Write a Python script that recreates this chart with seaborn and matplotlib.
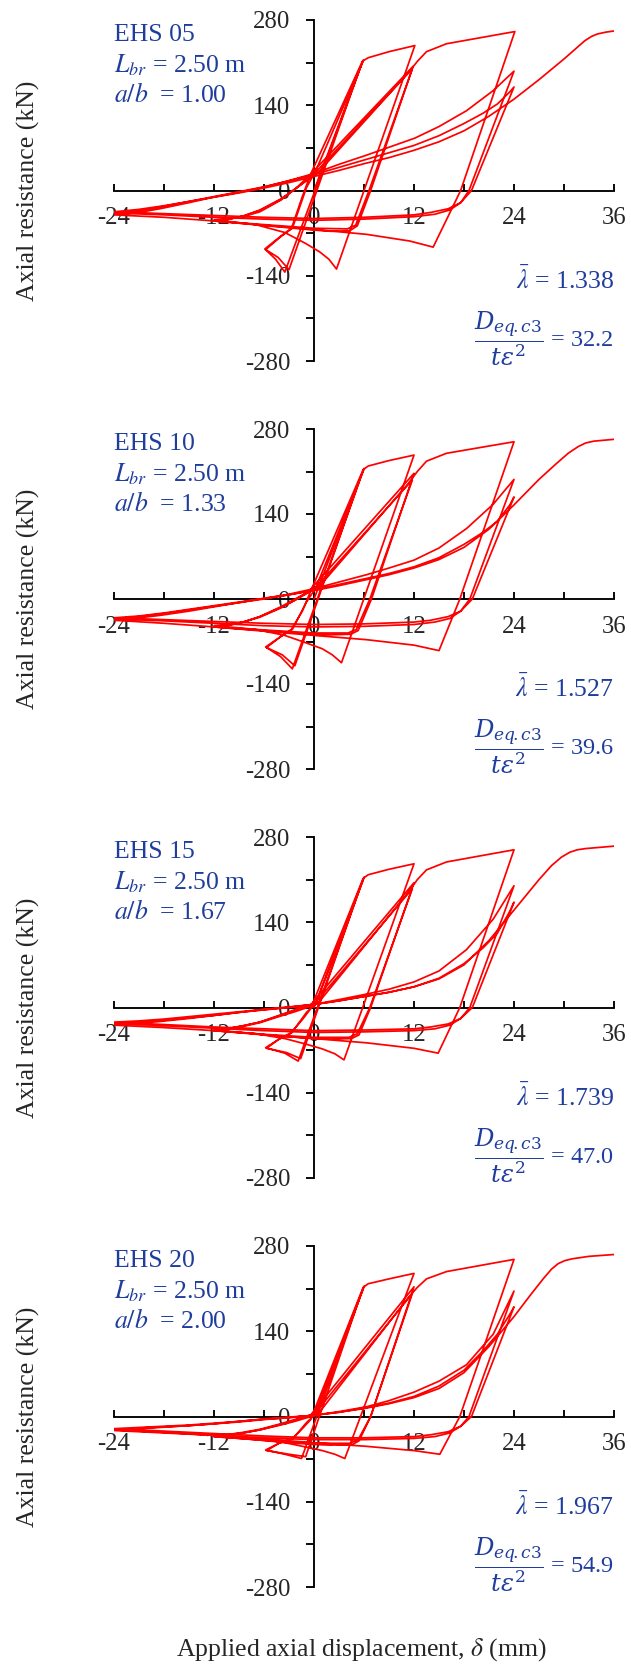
import matplotlib
matplotlib.use("Agg")
import matplotlib.pyplot as plt
import seaborn as sns
from matplotlib.ticker import MultipleLocator

sns.set_style("white")
plt.rcParams["font.family"] = ["Liberation Serif", "DejaVu Serif"]
plt.rcParams["mathtext.fontset"] = "stix"
plt.rcParams["axes.unicode_minus"] = False

# ---------------------------------------------------------------- labels
specimens = ["EHS 05", "EHS 10", "EHS 15", "EHS 20"]
brace_length = ["2.50", "2.50", "2.50", "2.50"]
aspect_ratio = ["1.00", "1.33", "1.67", "2.00"]
slenderness = ["1.338", "1.527", "1.739", "1.967"]
d_ratio = ["32.2", "39.6", "47.0", "54.9"]
x_ticks = [-24, -12, 0, 12, 24, 36]
y_ticks = [-280, -140, 0, 140, 280]

# ---------------------------------------------------------------- hysteresis records (mm, kN)
ehs05_disp = [
    0, 5.9, -3.5, -4.6, -5.9, -4.0, -2.7, -1.4, -0.4, 5.8, -3.0, -4.3, -5.8, -4.0, -2.6, -0.9, 0.2, 5.9,
    6.5, 9.0, 12.1, 2.7, 1.8, 0.7, -1.0, -3.5, -7.0, -12.0,
    -10.5, -8.5, -6.5, -4.0, -2.3, -0.6, 11.9, 6.8, 5.2, 4.3, 2.0, 0.0, -4.0, -8.0, -12.0,
    -10.5, -8.5, -6.5, -4.0, -2.0, 0.0, 11.8, 6.6, 5.0, 4.0, 0.0, -6.0, -12.0,
    -10.5, -8.5, -6.5, -4.0, -1.6, 0.6, 11.3, 12.4, 13.5, 15.9, 24.1,
    17.6, 14.3, 11.5, 6.3, 0.0, -6.0, -12.0, -18.0, -24.0,
    -21, -18.5, -15, -12.1, -9, -6.5, -3.3, 0, 3, 6.3, 9, 12.1, 15, 18.3, 21.5, 24,
    18.6, 17.6, 16.3, 14.5, 12, 6, 0, -6, -12, -18, -24,
    -21, -18, -15, -12, -9, -6, -3, 0, 3, 6, 9, 12, 15, 18, 20.3, 22, 23.5, 24,
    18.9, 17.6, 16.1, 14, 12, 6, 0, -6, -12, -18, -24,
    -21, -18, -15, -12, -9, -6, -3, 0, 3, 6, 9, 12, 15, 18, 21, 24, 27, 30, 31.5, 32.5, 33.3, 34, 35, 36,
]
ehs05_force = [
    0, 214, -134, -113, -96, -75, -62, -10, 27, 212, -130, -110, -97, -76, -62, 5, 32, 213,
    218, 228, 238, -129, -113, -101, -87, -69, -56, -48,
    -47, -43, -35, -16, 2, 24, 204, 0, -58, -66, -67, -65, -60, -55, -50,
    -48, -42, -33, -15, 5, 27, 200, 0, -57, -63, -62, -56, -50,
    -48, -42, -32, -14, 9, 31, 193, 212, 228, 241, 261,
    0, -93, -83, -72, -64, -57, -50, -44, -40,
    -36, -30, -20, -11, -3, 4, 15, 28, 43, 58, 71, 86, 105, 131, 164, 196,
    0, -20, -32, -39, -43, -47, -49, -47, -44, -40, -37,
    -33, -26, -18, -10, -2, 6, 16, 26, 38, 50, 62, 74, 90, 110, 127, 142, 162, 170,
    0, -20, -30, -36, -40, -44, -46, -44, -41, -38, -35,
    -31, -25, -18, -11, -4, 4, 13, 23, 33, 44, 54, 66, 80, 98, 122, 150, 182, 216, 234, 246, 253, 257, 260, 262,
]

ehs10_disp = [
    0, 6.0, -2.6, -4.0, -5.8, -4.0, -2.7, -1.4, -0.4, 5.9, -2.3, -3.8, -5.7, -4.0, -2.6, -0.9, 0.2, 6.0,
    6.5, 9.0, 12.0, 3.3, 2.2, 1.0, -1.0, -3.5, -7.0, -12.0,
    -10.5, -8.5, -6.5, -4.0, -2.3, -0.6, 12.0, 6.9, 5.3, 4.4, 2.0, 0.0, -4.0, -8.0, -12.0,
    -10.5, -8.5, -6.5, -4.0, -2.0, 0.0, 11.8, 6.7, 5.1, 4.1, 0.0, -6.0, -12.0,
    -10.5, -8.5, -6.5, -4.0, -1.6, 0.6, 11.3, 12.4, 13.5, 15.9, 24.0,
    17.5, 15.0, 12.0, 6.3, 0.0, -6.0, -12.0, -18.0, -24.0,
    -21, -18.5, -15, -12, -9, -6.5, -3.3, 0, 3, 6.3, 9, 12, 15, 18.3, 21.5, 24,
    18.7, 17.6, 16.3, 14.5, 12, 6, 0, -6, -12, -18, -24,
    -21, -18, -15, -12, -9, -6, -3, 0, 3, 6, 9, 12, 15, 18, 20.3, 22, 23.5, 24,
    19.0, 17.6, 16.1, 14, 12, 6, 0, -6, -12, -18, -24,
    -21, -18, -15, -12, -9, -6, -3, 0, 3, 6, 9, 12, 15, 18, 21, 24, 27, 29, 30.5, 31.7, 32.6, 33.6, 36,
]
ehs10_force = [
    0, 215, -115, -95, -79, -62, -50, -20, 13, 213, -110, -92, -80, -62, -50, -5, 18, 214,
    219, 228, 237, -105, -92, -82, -72, -60, -50, -44,
    -43, -38, -30, -15, -2, 13, 207, 0, -52, -58, -59, -58, -54, -50, -46,
    -44, -38, -29, -14, 0, 16, 196, 0, -50, -56, -56, -51, -46,
    -44, -38, -29, -13, 5, 20, 190, 210, 227, 240, 259,
    0, -85, -76, -67, -60, -53, -46, -40, -35,
    -31, -27, -20, -13, -6, 0, 7, 17, 28, 40, 51, 64, 84, 116, 156, 197,
    0, -20, -32, -38, -42, -45, -46, -44, -40, -36, -33,
    -29, -24, -18, -12, -6, 0, 7, 15, 24, 33, 42, 53, 68, 90, 110, 128, 155, 168,
    0, -20, -29, -35, -38, -41, -42, -40, -37, -34, -31,
    -28, -23, -17, -11, -5, 1, 7, 14, 22, 31, 40, 51, 65, 85, 115, 155, 197, 222, 240, 251, 257, 260, 263,
]

ehs15_disp = [
    0, 6.0, -1.9, -3.5, -5.8, -4.2, -2.8, -1.4, -0.4, 5.9, -1.6, -3.3, -5.7, -4.2, -2.7, -0.9, 0.2, 6.0,
    6.5, 9.0, 12.0, 3.6, 2.5, 1.0, -1.0, -3.5, -7.0, -12.0,
    -10.5, -8.5, -6.5, -4.0, -2.3, -0.6, 12.0, 6.8, 5.4, 4.5, 2.0, 0.0, -4.0, -8.0, -12.0,
    -10.5, -8.5, -6.5, -4.0, -2.0, 0.0, 11.8, 6.7, 5.2, 4.2, 0.0, -6.0, -12.0,
    -10.5, -8.5, -6.5, -4.0, -1.6, 0.6, 11.3, 12.4, 13.5, 15.9, 24.0,
    17.5, 14.9, 12.0, 6.3, 0.0, -6.0, -12.0, -18.0, -24.0,
    -21, -18.5, -15, -12, -9, -6.5, -3.3, 0, 3, 6.3, 9, 12, 15, 18.3, 21.5, 24,
    18.7, 17.6, 16.3, 14.5, 12, 6, 0, -6, -12, -18, -24,
    -21, -18, -15, -12, -9, -6, -3, 0, 3, 6, 9, 12, 15, 18, 20.3, 22, 23.5, 24,
    19.0, 17.6, 16.1, 14, 12, 6, 0, -6, -12, -18, -24,
    -21, -18, -15, -12, -9, -6, -3, 0, 3, 6, 9, 12, 15, 18, 21, 24, 27, 28.5, 29.7, 30.7, 31.6, 32.6, 36,
]
ehs15_force = [
    0, 214, -88, -75, -66, -52, -42, -20, -2, 212, -84, -74, -67, -52, -42, -8, 6, 213,
    218, 227, 236, -86, -76, -68, -60, -51, -43, -37,
    -35, -31, -25, -14, -7, 1, 205, 0, -45, -51, -52, -51, -47, -42, -38,
    -35, -30, -24, -13, -4, 5, 195, 0, -43, -49, -49, -44, -38,
    -35, -30, -24, -12, 0, 9, 189, 210, 226, 239, 259,
    0, -75, -67, -58, -51, -45, -38, -33, -29,
    -26, -23, -18, -13, -8, -4, 0, 5, 13, 22, 30, 42, 60, 95, 145, 200,
    0, -18, -29, -35, -38, -40, -41, -38, -34, -30, -26,
    -24, -21, -17, -13, -8, -4, 0, 5, 11, 18, 25, 34, 48, 72, 98, 122, 158, 173,
    0, -18, -27, -32, -35, -37, -38, -35, -32, -28, -24,
    -22, -19, -15, -11, -7, -3, 1, 5, 11, 18, 25, 34, 47, 70, 110, 160, 210, 233, 247, 255, 259, 261, 265,
]

ehs20_disp = [
    0, 6.0, -1.5, -3.5, -5.8, -4.2, -2.6, -1.4, -0.4, 5.9, -1.0, -3.0, -5.7, -4.2, -2.5, -0.9, 0.2, 6.0,
    6.5, 9.0, 12.0, 3.7, 2.5, 1.0, -1.0, -3.5, -7.0, -12.0,
    -10.5, -8.5, -6.5, -4.0, -2.3, -0.6, 12.0, 6.8, 5.4, 4.6, 2.0, 0.0, -4.0, -8.0, -12.0,
    -10.5, -8.5, -6.5, -4.0, -2.0, 0.0, 11.8, 6.8, 5.3, 4.3, 0.0, -6.0, -12.0,
    -10.5, -8.5, -6.5, -4.0, -1.6, 0.6, 11.3, 12.4, 13.5, 15.9, 24.0,
    17.5, 15.1, 12.0, 6.3, 0.0, -6.0, -12.0, -18.0, -24.0,
    -21, -18.5, -15, -12, -9, -6.5, -3.3, 0, 3, 6.3, 9, 12, 15, 18.3, 21.5, 24,
    18.6, 17.6, 16.3, 14.5, 12, 6, 0, -6, -12, -18, -24,
    -21, -18, -15, -12, -9, -6, -3, 0, 3, 6, 9, 12, 15, 18, 20.3, 22, 23.5, 24,
    18.9, 17.6, 16.1, 14, 12, 6, 0, -6, -12, -18, -24,
    -21, -18, -15, -12, -9, -6, -3, 0, 3, 6, 9, 12, 15, 18, 21, 24, 26, 27.5, 28.5, 29.3, 30.1, 31, 33, 36,
]
ehs20_force = [
    0, 214, -69, -62, -55, -44, -36, -20, -5, 212, -66, -62, -56, -44, -36, -10, 4, 213,
    218, 226, 235, -69, -62, -56, -50, -43, -36, -31,
    -30, -27, -22, -14, -8, -1, 213, 0, -40, -46, -47, -46, -42, -37, -33,
    -31, -27, -22, -13, -5, 3, 202, 0, -38, -44, -44, -39, -33,
    -30, -26, -21, -12, -2, 6, 195, 212, 226, 238, 258,
    0, -62, -56, -49, -43, -37, -31, -26, -22,
    -20, -18, -15, -12, -8, -5, -2, 2, 8, 16, 26, 40, 58, 85, 135, 206,
    0, -16, -27, -33, -36, -38, -38, -35, -31, -27, -23,
    -19, -17, -15, -12, -9, -5, -2, 2, 7, 14, 22, 33, 50, 76, 108, 135, 168, 180,
    0, -16, -25, -30, -33, -35, -35, -32, -28, -24, -20,
    -18, -16, -14, -11, -8, -4, -1, 2, 7, 13, 21, 31, 46, 72, 115, 164, 200, 226, 242, 251, 256, 259, 263, 266,
]

records = [
    (ehs05_disp, ehs05_force),
    (ehs10_disp, ehs10_force),
    (ehs15_disp, ehs15_force),
    (ehs20_disp, ehs20_force),
]

# ---------------------------------------------------------------- layout
FIG_W, FIG_H = 631, 1675
AX_LEFT, AX_RIGHT = 114, 614
AX_TOPS = [20, 429, 837, 1246]
AX_BOTTOMS = [361, 769, 1178, 1587]
BLUE = "#1f3d9c"
FS_TICK = 17.8
FS_TEXT = 18.5
FS_FRAC = 17.5

fig = plt.figure(figsize=(FIG_W / 100, FIG_H / 100), dpi=100)

for i, (disp, force) in enumerate(records):
    top, bottom = AX_TOPS[i], AX_BOTTOMS[i]
    ax = fig.add_axes([
        AX_LEFT / FIG_W,
        1 - bottom / FIG_H,
        (AX_RIGHT - AX_LEFT) / FIG_W,
        (bottom - top) / FIG_H,
    ])
    ax.set_facecolor("none")

    sns.lineplot(x=disp, y=force, sort=False, estimator=None, color="#ff0000",
                 linewidth=1.25, ax=ax, zorder=3)
    for ln in ax.lines:
        ln.set_solid_joinstyle("round")

    ax.set_xlim(-24, 36)
    ax.set_ylim(-280, 280)
    ax.set_xlabel("")
    ax.set_ylabel("")

    for side in ("top", "right"):
        ax.spines[side].set_visible(False)
    ax.spines["left"].set_position(("data", 0))
    ax.spines["bottom"].set_position(("data", 0))
    for side in ("left", "bottom"):
        ax.spines[side].set_linewidth(1.35)
        ax.spines[side].set_color("black")

    ax.set_xticks(x_ticks)
    ax.set_xticklabels([str(v) for v in x_ticks])
    ax.xaxis.set_minor_locator(MultipleLocator(6))
    ax.set_yticks(y_ticks)
    ax.set_yticklabels([str(v) for v in y_ticks])
    ax.yaxis.set_minor_locator(MultipleLocator(70))

    ax.tick_params(axis="x", which="both", direction="in", length=5, width=1.35,
                   bottom=True, labelsize=FS_TICK, pad=12, color="black")
    ax.tick_params(axis="y", which="both", direction="out", length=6, width=1.35,
                   left=True, labelsize=FS_TICK, pad=11, color="black")
    ax.grid(False)

    # specimen annotations
    ax.text(0.0, 0.956, specimens[i], transform=ax.transAxes, ha="left", va="center",
            fontsize=FS_TEXT, color=BLUE)
    ax.text(0.0, 0.866, r"$L_{br}$" + f" = {brace_length[i]} m", transform=ax.transAxes,
            ha="left", va="center", fontsize=FS_TEXT, color=BLUE, math_fontfamily="stix")
    ax.text(0.0, 0.78, r"$a/b$" + f"  = {aspect_ratio[i]}", transform=ax.transAxes,
            ha="left", va="center", fontsize=FS_TEXT, color=BLUE, math_fontfamily="stix")
    ax.text(1.0, 0.2375, r"$\bar{\lambda}$" + f" = {slenderness[i]}", transform=ax.transAxes,
            ha="right", va="center", fontsize=FS_TEXT, color=BLUE, math_fontfamily="stix")
    ax.text(1.0, 0.067, r"$\dfrac{D_{eq\!.c3}}{t\varepsilon^{2}}$" + f" = {d_ratio[i]}",
            transform=ax.transAxes, ha="right", va="center", fontsize=FS_FRAC, color=BLUE,
            math_fontfamily="dejavuserif")

    fig.text(28 / FIG_W, 1 - ((top + bottom) / 2) / FIG_H, "Axial resistance (kN)",
             rotation=90, ha="center", va="center", fontsize=FS_TEXT)

fig.text(361 / FIG_W, 1 - 1650 / FIG_H, r"Applied axial displacement, $\delta$ (mm)",
         ha="center", va="center", fontsize=FS_TEXT, math_fontfamily="stix")

fig.savefig("out.png", dpi=100)
